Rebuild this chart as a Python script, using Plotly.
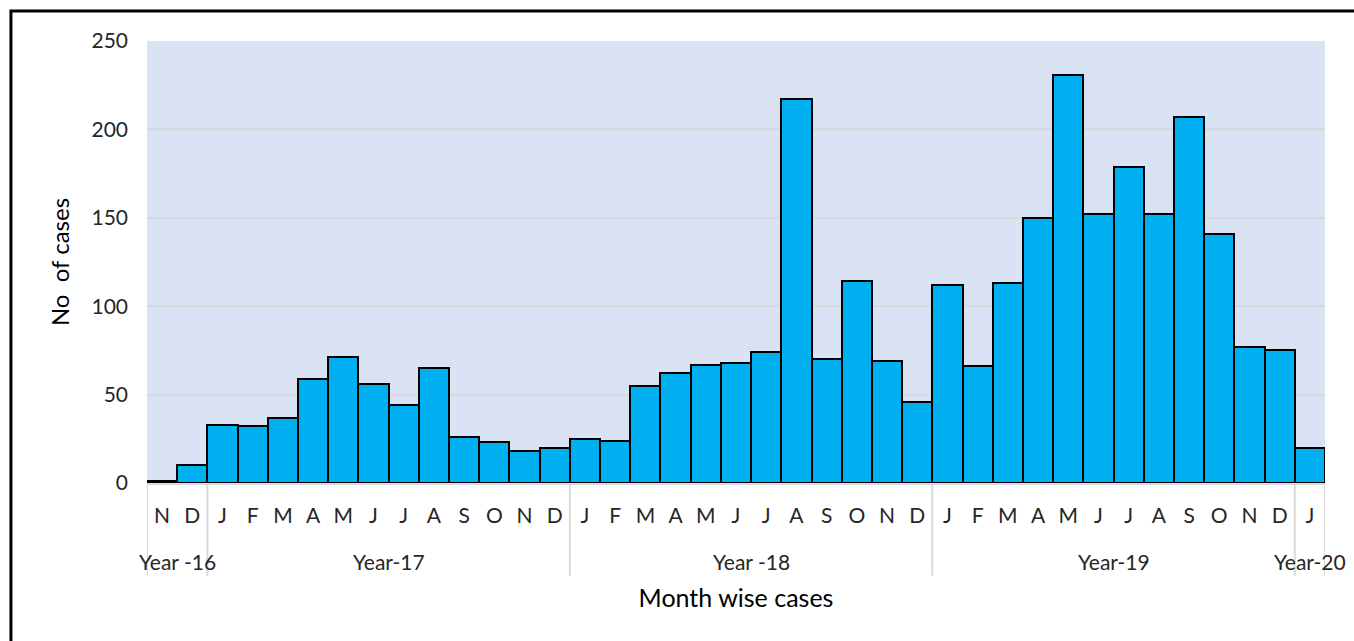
import plotly.graph_objects as go

ZW = "\u200b"  # zero-width marker to keep repeated month initials distinct categories

year_labels = ["Year -16", "Year-17", "Year -18", "Year-19", "Year-20"]
year_month_counts = [2, 12, 12, 12, 1]
month_initials = (["N", "D"]
                  + ["J", "F", "M", "A", "M", "J", "J", "A", "S", "O", "N", "D"] * 3
                  + ["J"])

cases_2016 = [1, 10]
cases_2017 = [33, 32, 37, 59, 71, 56, 44, 65, 26, 23, 18, 20]
cases_2018 = [25, 24, 55, 62, 67, 68, 74, 217, 70, 114, 69, 46]
cases_2019 = [112, 66, 113, 150, 231, 152, 179, 152, 207, 141, 77, 75]
cases_2020 = [20]
cases = cases_2016 + cases_2017 + cases_2018 + cases_2019 + cases_2020

# unique category strings (display identical)
seen = {}
months = []
for m in month_initials:
    k = seen.get(m, 0)
    months.append(m + ZW * k)
    seen[m] = k + 1

FONT = "Lato"
GRID = "#D9D9D9"

fig = go.Figure(go.Bar(
    x=months,
    y=cases,
    marker=dict(color="#00B0F0", line=dict(color="#000000", width=2)),
))

fig.update_layout(
    width=1354, height=641,
    margin=dict(l=147, r=29, t=41, b=158),
    paper_bgcolor="#FFFFFF",
    plot_bgcolor="#DAE3F3",
    bargap=0,
    showlegend=False,
    font=dict(family=FONT, size=21, color="#000000"),
    xaxis=dict(
        type="category", automargin=False,
        range=[-0.5, len(months) - 0.5],
        showline=True, linecolor=GRID, linewidth=2,
        ticks="outside", ticklen=13, tickcolor="rgba(0,0,0,0)",
        tickfont=dict(family=FONT, size=21, color="#262626"),
        title=dict(text="Month wise cases", font=dict(family=FONT, size=25, color="#000000"), standoff=63),
        showgrid=False, zeroline=False,
    ),
    yaxis=dict(
        range=[0, 250], dtick=50, automargin=False,
        showgrid=True, gridcolor=GRID, gridwidth=2,
        zeroline=False, showline=False,
        tickfont=dict(family=FONT, size=21, color="#262626"),
        ticklabelstandoff=18,
        title=dict(text="No  of cases", font=dict(family=FONT, size=24, color="#000000"), standoff=15),
    ),
)

# year group labels and dividers derived from the month counts
start = 0
for label, n in zip(year_labels, year_month_counts):
    fig.add_shape(type="line", xref="x", yref="paper",
                  x0=start - 0.5, x1=start - 0.5, y0=0, y1=-0.21,
                  line=dict(color=GRID, width=2))
    fig.add_annotation(x=start + (n - 1) / 2, xref="x", y=-0.1765, yref="paper",
                       text=label, showarrow=False, yanchor="middle", xanchor="center",
                       font=dict(family=FONT, size=21, color="#262626"))
    start += n
fig.add_shape(type="line", xref="x", yref="paper",
              x0=start - 0.5, x1=start - 0.5, y0=0, y1=-0.21,
              line=dict(color=GRID, width=2))

fig.add_shape(type="rect", xref="paper", yref="paper",
              x0=-0.1155, x1=1.1, y0=-0.5, y1=1.068,
              line=dict(color="#000000", width=3), fillcolor="rgba(0,0,0,0)", layer="above")

fig.write_html("out.html", config={"displayModeBar": False},
               post_script="document.body.style.margin='0';")
